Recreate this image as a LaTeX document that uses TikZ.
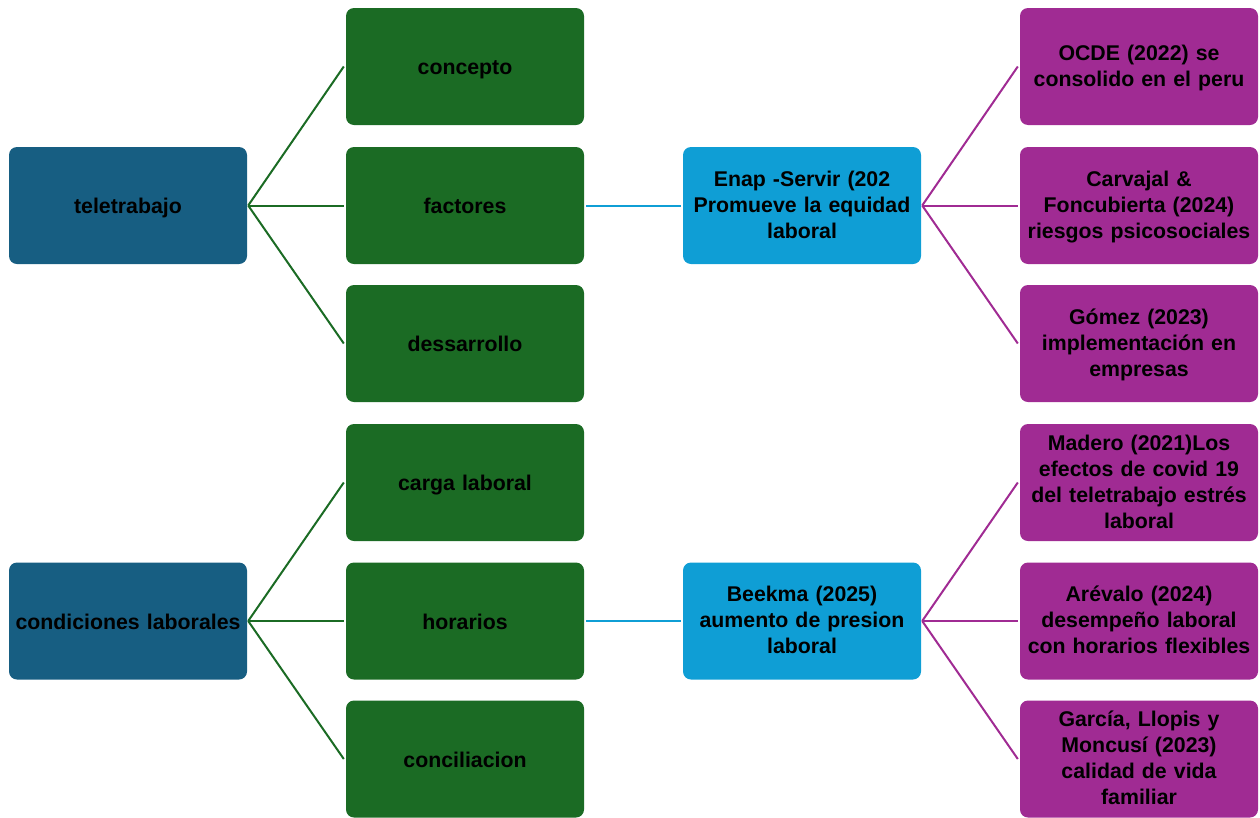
\documentclass[tikz,border=0pt]{standalone}
\usepackage{fontspec}
\setmainfont{Liberation Sans}
\definecolor{cblue}{HTML}{175E82}
\definecolor{cgreen}{HTML}{1B6B24}
\definecolor{clight}{HTML}{0F9ED5}
\definecolor{cpurple}{HTML}{A02B93}
\begin{document}
\begin{tikzpicture}[x=1pt,y=-1pt,
  box/.style={rectangle,rounded corners=8pt,minimum width=238pt,minimum height=117pt,inner sep=0pt},
  txt/.style={inner sep=0pt,text width=236pt,align=center,font=\fontsize{21.3}{26}\selectfont\bfseries,text=black,yshift=-3pt},
  rootbox/.style={box,fill=cblue},
  greenbox/.style={box,fill=cgreen},
  lightbox/.style={box,fill=clight},
  purplebox/.style={box,fill=cpurple},
  gline/.style={draw=cgreen,line width=2pt},
  bline/.style={draw=clight,line width=2pt},
  pline/.style={draw=cpurple,line width=2pt}]
\useasboundingbox (0,0) rectangle (1260,817);
% roots
\node[rootbox,label={[txt]center:teletrabajo\strut}] (tele) at (128,205.5) {};
\node[rootbox,label={[txt]center:condiciones laborales\strut}] (cond) at (128,621) {};
% green
\node[greenbox,label={[txt]center:concepto\strut}] (concepto) at (465,66.5) {};
\node[greenbox,label={[txt]center:factores\strut}] (factores) at (465,205.5) {};
\node[greenbox,label={[txt]center:dessarrollo\strut}] (dess) at (465,343.5) {};
\node[greenbox,label={[txt]center:carga laboral\strut}] (carga) at (465,482.5) {};
\node[greenbox,label={[txt]center:horarios\strut}] (horarios) at (465,621) {};
\node[greenbox,label={[txt]center:conciliacion\strut}] (concil) at (465,759) {};
% light blue
\node[lightbox,label={[txt]center:{Enap -Servir (202\\Promueve la equidad\\laboral\strut}}] (enap) at (802,205.5) {};
\node[lightbox,label={[txt]center:{Beekma (2025)\\aumento de presion\\laboral\strut}}] (beekma) at (802,621) {};
% purple
\node[purplebox,label={[txt]center:{OCDE (2022) se\\consolido en el peru\strut}}] (ocde) at (1139,66.5) {};
\node[purplebox,label={[txt]center:{Carvajal \&\\Foncubierta (2024)\\riesgos psicosociales\strut}}] (carv) at (1139,205.5) {};
\node[purplebox,label={[txt]center:{Gómez (2023)\\implementación en\\empresas\strut}}] (gomez) at (1139,343.5) {};
\node[purplebox,label={[txt]center:{Madero (2021)Los\\efectos de covid 19\\del teletrabajo estrés\\laboral\strut}}] (madero) at (1139,482.5) {};
\node[purplebox,label={[txt]center:{Arévalo (2024)\\desempeño laboral\\con horarios flexibles\strut}}] (arev) at (1139,621) {};
\node[purplebox,label={[txt]center:{García, Llopis y\\Moncusí (2023)\\calidad de vida\\familiar\strut}}] (garcia) at (1139,759) {};
% connectors
\foreach \t in {concepto,factores,dess}
  \draw[gline] ([xshift=1pt]tele.east) -- ([xshift=-2pt]\t.west);
\foreach \t in {carga,horarios,concil}
  \draw[gline] ([xshift=1pt]cond.east) -- ([xshift=-2pt]\t.west);
\draw[bline] ([xshift=2pt]factores.east) -- ([xshift=-2pt]enap.west);
\draw[bline] ([xshift=2pt]horarios.east) -- ([xshift=-2pt]beekma.west);
\foreach \t in {ocde,carv,gomez}
  \draw[pline] ([xshift=1pt]enap.east) -- ([xshift=-2pt]\t.west);
\foreach \t in {madero,arev,garcia}
  \draw[pline] ([xshift=1pt]beekma.east) -- ([xshift=-2pt]\t.west);
\end{tikzpicture}
\end{document}
